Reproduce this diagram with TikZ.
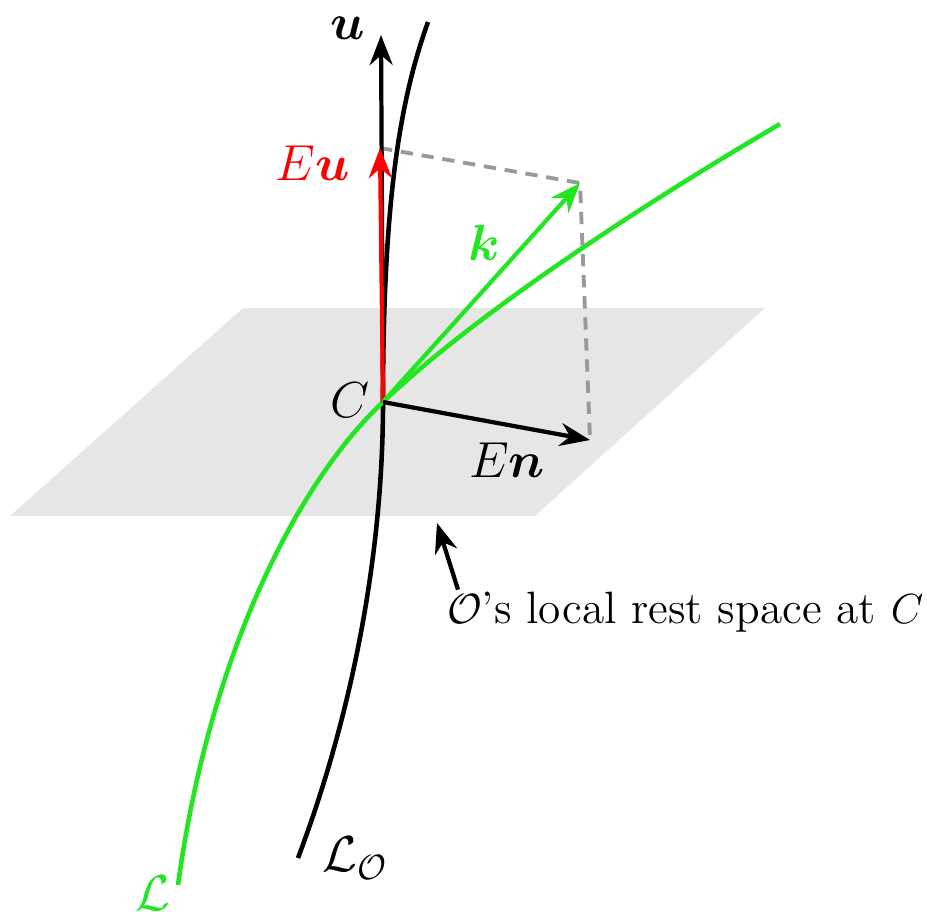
\documentclass[tikz,border=0pt]{standalone}
\usepackage{bm}
\usetikzlibrary{arrows.meta}
\definecolor{linegreen}{HTML}{22E622}
\definecolor{planegray}{HTML}{E6E6E6}
\definecolor{dashgray}{HTML}{999999}

\tikzset{
  vec/.style={line width=1.2pt,-{Stealth[length=3mm,width=2.3mm]}},
  world/.style={line width=1.3pt},
  proj/.style={dashgray,line width=1.1pt,dash pattern=on 3.5pt off 2.5pt},
  lbl/.style={font=\fontsize{14.5}{17}\selectfont,inner sep=1pt},
  notelbl/.style={font=\fontsize{12.9}{15}\selectfont,inner sep=1pt}
}

\begin{document}
\begin{tikzpicture}
\useasboundingbox (0,0) rectangle (9.27,9.11);
% rest space at C
\fill[planegray] (2.43,6.03) -- (7.65,6.03) -- (5.35,3.95) -- (0.10,3.95) -- cycle;
\coordinate (C) at (3.83,5.09);
\coordinate (plane) at (4.37,3.88);
% world lines
\draw[world] (2.98,0.53) .. controls (3.50,1.91) and (3.83,3.51) .. (C)
  .. controls (3.83,7.11) and (4.00,8.11) .. (4.28,8.89);
\draw[world,linegreen] (1.78,0.26) .. controls (2.10,2.61) and (3.00,4.31) .. (C)
  .. controls (4.80,6.01) and (6.50,7.11) .. (7.80,7.87);
% vectors at C
\coordinate (utip) at (3.81,8.76);
\coordinate (Eutip) at (3.80,7.63);
\coordinate (ktip) at (5.80,7.28);
\coordinate (Entip) at (5.90,4.71);
\draw[proj] (Eutip) -- (ktip) -- (Entip);
\draw[vec] (C) -- (utip);
\draw[vec,red] (C) -- (Eutip);
\draw[vec,linegreen] (C) -- (ktip);
\draw[vec] (C) -- (Entip);
% labels
\node[lbl] (ulbl) at (3.48,8.83) {$\bm{u}$};
\node[lbl,red] (Eulbl) at (3.13,7.48) {$E\bm{u}$};
\node[lbl,linegreen] (klbl) at (4.84,6.68) {$\bm{k}$};
\node[lbl] (Clbl) at (3.50,5.11) {$C$};
\node[lbl] (Enlbl) at (5.07,4.51) {$E\bm{n}$};
\node[lbl] (LOlbl) at (3.55,0.53) {$\mathcal{L}_{\mathcal{O}}$};
\node[lbl,linegreen] (Llbl) at (1.53,0.18) {$\mathcal{L}$};
\node[notelbl,anchor=west] (note) at (4.43,2.99) {$\mathcal{O}$'s local rest space at $C$};
\draw[vec] ([xshift=0.15cm,yshift=-0.02cm]note.north west) -- (plane);
\end{tikzpicture}
\end{document}
